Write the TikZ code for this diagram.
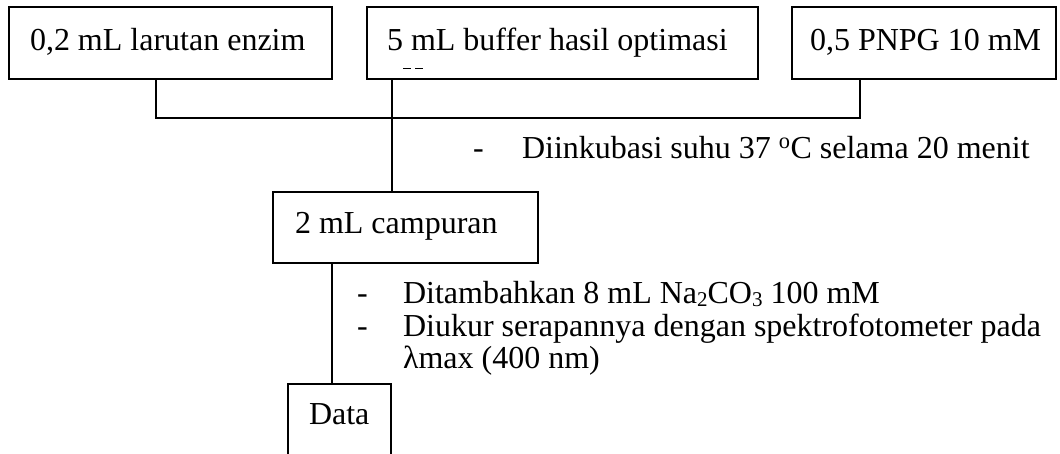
\documentclass[tikz,border=0pt]{standalone}
\usepackage{fontspec}
\setmainfont{Liberation Serif}
\newcommand{\mysub}[1]{\raisebox{-3.5pt}{\fontsize{21}{21}\selectfont #1}}
\begin{document}
\begin{tikzpicture}[x=1pt,y=-1pt,
  every node/.style={inner sep=0pt,outer sep=0pt},
  box/.style={draw,line width=1.6pt,minimum width=#1},
  txt/.style={anchor=base west,font=\fontsize{32}{36}\selectfont},
  conn/.style={line width=1.6pt}]
\useasboundingbox (0,0) rectangle (1060,453);
% top boxes
\node[box=323pt,minimum height=72pt] (b1) at (170.5,43) {};
\node[box=391pt,minimum height=72pt] (b2) at (562.5,43) {};
\node[box=264pt,minimum height=72pt] (b3) at (924,43) {};
\node[txt] (t1) at (30,50) {0,2 mL larutan enzim};
\node[txt] (t2) at (387,50) {5 mL buffer hasil optimasi};
\node[txt] (t3) at (810,50) {0,5 PNPG 10 mM};
\draw[line width=1.3pt] (403,68.5) -- (411,68.5) (415,68.5) -- (423,68.5);
% mixture box
\node[box=265pt,minimum height=71pt] (c) at (405.5,227.5) {};
\node[txt] (tc) at (295,233) {2 mL campuran};
% data box (open at bottom)
\coordinate (dtl) at (288,384);
\coordinate (dtr) at (391,384);
\coordinate (dbl) at (288,456);
\coordinate (dbr) at (391,456);
\node (d) at (339.5,384) {};
\draw[conn] (dbl) -- (dtl) -- (dtr) -- (dbr);
\node[txt] (td) at (309,424) {Data};
% connectors
\coordinate (j1) at (156,118);
\coordinate (j3) at (860,118);
\draw[conn] (b1.south -| j1) -- (j1) -- (j3) -- (b3.south -| j3);
\draw[conn] (b2.south -| 392,0) -- (c.north -| 392,0);
\draw[conn] (c.south -| 332,0) -- (d.north -| 332,0);
% step notes
\node[txt] (m1) at (473,158) {-};
\node[txt] (n1) at (522,158) {Diinkubasi suhu 37 \textsuperscript{o}C selama 20 menit};
\node[txt] (m2) at (357,303) {-};
\node[txt] (n2) at (403,303) {Ditambahkan 8 mL Na\mysub{2}CO\mysub{3} 100 mM};
\node[txt] (m3) at (357,336) {-};
\node[txt] (n3) at (403,336) {Diukur serapannya dengan spektrofotometer pada};
\node[txt] (n4) at (403,368) {λmax (400 nm)};
\end{tikzpicture}
\end{document}
